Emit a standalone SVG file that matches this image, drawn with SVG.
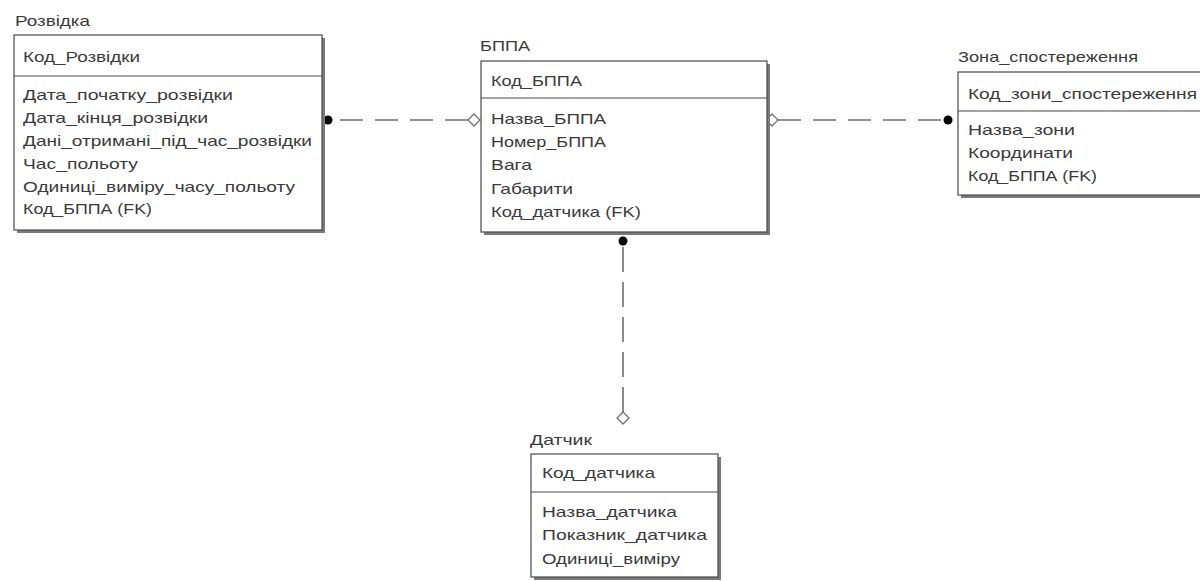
<svg xmlns="http://www.w3.org/2000/svg" width="1200" height="581" viewBox="0 0 1200 581">
<defs>
<style>
text{font-family:"Liberation Sans","DejaVu Sans",sans-serif;font-size:15px;fill:#3a3a3a}
.box{fill:#fff;stroke:#4a4a4a;stroke-width:1.2}
.shadow{fill:#7a7a7a}
.div{stroke:#4a4a4a;stroke-width:1.2}
.conn{stroke:#707070;stroke-width:1.6;fill:none;stroke-dasharray:23 12}
.solid{stroke:#707070;stroke-width:1.6;fill:none}
.dia{fill:#fff;stroke:#707070;stroke-width:1.3}
.dot{fill:#000}
</style>
</defs>
<rect width="1200" height="581" fill="#fff"/>
<g id="connectors">
<line class="conn" x1="468" y1="120" x2="332" y2="120"/>
<polygon class="dia" points="468,120 474,114 480,120 474,126"/>
<circle class="dot" cx="328" cy="120" r="4.5"/>
<line class="conn" x1="778" y1="120" x2="944" y2="120"/>
<polygon class="dia" points="766,120 772,114 778,120 772,126"/>
<circle class="dot" cx="948" cy="120" r="4.5"/>
<line class="conn" x1="623" y1="412" x2="623" y2="245" style="stroke-dasharray:25 10"/>
<polygon class="dia" points="623,412 629,418 623,424 617,418"/>
<circle class="dot" cx="623" cy="241" r="4.5"/>
</g>
<g id="rozvidka">
<text x="15" y="26" textLength="75" lengthAdjust="spacingAndGlyphs">Розвідка</text>
<rect class="shadow" x="17" y="38" width="308" height="195"/>
<rect class="box" x="14" y="35" width="308" height="195"/>
<line class="div" x1="14" y1="76" x2="322" y2="76"/>
<text x="23" y="62" textLength="117" lengthAdjust="spacingAndGlyphs">Код_Розвідки</text>
<text x="23" y="100" textLength="210" lengthAdjust="spacingAndGlyphs">Дата_початку_розвідки</text>
<text x="23" y="123" textLength="185" lengthAdjust="spacingAndGlyphs">Дата_кінця_розвідки</text>
<text x="23" y="146" textLength="289" lengthAdjust="spacingAndGlyphs">Дані_отримані_під_час_розвідки</text>
<text x="23" y="169" textLength="115" lengthAdjust="spacingAndGlyphs">Час_польоту</text>
<text x="23" y="192" textLength="272" lengthAdjust="spacingAndGlyphs">Одиниці_виміру_часу_польоту</text>
<text x="23" y="214" textLength="129" lengthAdjust="spacingAndGlyphs">Код_БППА (FK)</text>
</g>
<g id="bppa">
<text x="480" y="51" textLength="50" lengthAdjust="spacingAndGlyphs">БППА</text>
<rect class="shadow" x="484" y="64" width="286" height="171"/>
<rect class="box" x="481" y="61" width="286" height="171"/>
<line class="div" x1="481" y1="98" x2="767" y2="98"/>
<text x="491" y="86" textLength="91" lengthAdjust="spacingAndGlyphs">Код_БППА</text>
<text x="491" y="124" textLength="115" lengthAdjust="spacingAndGlyphs">Назва_БППА</text>
<text x="491" y="147" textLength="115" lengthAdjust="spacingAndGlyphs">Номер_БППА</text>
<text x="491" y="170" textLength="41" lengthAdjust="spacingAndGlyphs">Вага</text>
<text x="491" y="194" textLength="82" lengthAdjust="spacingAndGlyphs">Габарити</text>
<text x="491" y="217" textLength="150" lengthAdjust="spacingAndGlyphs">Код_датчика (FK)</text>
</g>
<g id="zona">
<text x="958" y="62" textLength="180" lengthAdjust="spacingAndGlyphs">Зона_спостереження</text>
<rect class="shadow" x="961" y="75" width="260" height="123"/>
<rect class="box" x="958" y="72" width="260" height="123"/>
<line class="div" x1="958" y1="111" x2="1218" y2="111"/>
<text x="968" y="99" textLength="229" lengthAdjust="spacingAndGlyphs">Код_зони_спостереження</text>
<text x="968" y="135" textLength="107" lengthAdjust="spacingAndGlyphs">Назва_зони</text>
<text x="968" y="158" textLength="105" lengthAdjust="spacingAndGlyphs">Координати</text>
<text x="968" y="181" textLength="129" lengthAdjust="spacingAndGlyphs">Код_БППА (FK)</text>
</g>
<g id="datchyk">
<text x="530" y="445" textLength="62" lengthAdjust="spacingAndGlyphs">Датчик</text>
<rect class="shadow" x="534" y="457" width="187" height="123"/>
<rect class="box" x="531" y="454" width="187" height="123"/>
<line class="div" x1="531" y1="492" x2="718" y2="492"/>
<text x="542" y="478" textLength="113" lengthAdjust="spacingAndGlyphs">Код_датчика</text>
<text x="542" y="517" textLength="135" lengthAdjust="spacingAndGlyphs">Назва_датчика</text>
<text x="542" y="540" textLength="165" lengthAdjust="spacingAndGlyphs">Показник_датчика</text>
<text x="542" y="564" textLength="138" lengthAdjust="spacingAndGlyphs">Одиниці_виміру</text>
</g>
</svg>
